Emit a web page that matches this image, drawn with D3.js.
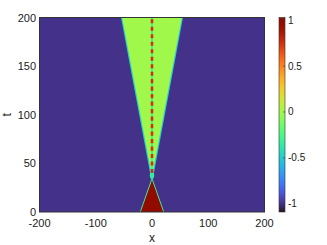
<!DOCTYPE html>
<html><head><meta charset="utf-8">
<script src="https://cdn.jsdelivr.net/npm/d3@7"></script>
<style>html,body{margin:0;padding:0;background:#fff;}svg{display:block;font-family:"Liberation Sans",Arial,sans-serif;}</style>
</head><body>
<script>
// ---- data ----
const xTicks = [-200, -100, 0, 100, 200];
const tTicks = [0, 50, 100, 150, 200];
const cTicks = [-1, -0.5, 0, 0.5, 1];
const colorDomain = [-1.09, 1.03];
// background field value
const backgroundValue = -1;
// red core (t, half width in x)
const coreT = [0, 33];
const coreHalf = [20, 0];
const coreValue = 1;
const coreEdgeValue = -0.3;
// expanding plateau (t, half width in x)
const wedgeT = [38, 200];
const wedgeHalf = [0.6, 53];
const wedgeValue = 0;
const wedgeEdgeValue = -0.5;
// central oscillating stripe
const stripeT = [40, 200];
const stripePeriod = 7.7;
const stripeValue = 0.75;
const stripeGapValue = -0.35;
// knot between core and plateau
const knotT = [34, 42];
const knotValue = -0.35;

const W = 327, H = 245;
const m = {l: 39.5, r: 264.5, t: 17.5, b: 212};
const svg = d3.select("body").append("svg").attr("width", W).attr("height", H);
const x = d3.scaleLinear().domain([-200, 200]).range([m.l, m.r]);
const y = d3.scaleLinear().domain([0, 200]).range([m.b, m.t]);
const color = d3.scaleSequential(d3.interpolateTurbo).domain(colorDomain);

const defs = svg.append("defs");
defs.append("clipPath").attr("id", "clip").append("rect")
  .attr("x", m.l).attr("y", m.t).attr("width", m.r - m.l).attr("height", m.b - m.t);
const g = svg.append("g").attr("clip-path", "url(#clip)");

g.append("rect").attr("x", m.l).attr("y", m.t).attr("width", m.r - m.l).attr("height", m.b - m.t)
  .attr("fill", color(backgroundValue));

const line = d3.line().x(d => x(d[0])).y(d => y(d[1]));
const wedgePts = [[-wedgeHalf[0], wedgeT[0]], [-wedgeHalf[1], wedgeT[1]], [wedgeHalf[1], wedgeT[1]], [wedgeHalf[0], wedgeT[0]]];
g.append("path").attr("d", line(wedgePts) + "Z").attr("fill", "none")
  .attr("stroke", color(wedgeEdgeValue)).attr("stroke-width", 2.4);
g.append("path").attr("d", line(wedgePts) + "Z").attr("fill", color(wedgeValue));

const corePts = [[-coreHalf[0], coreT[0]], [coreHalf[1], coreT[1]], [coreHalf[0], coreT[0]]];
g.append("path").attr("d", line(corePts) + "Z").attr("fill", "none")
  .attr("stroke", color(coreEdgeValue)).attr("stroke-width", 1.8);
g.append("path").attr("d", line(corePts) + "Z").attr("fill", color(coreValue));

// knot
g.append("ellipse").attr("cx", x(0)).attr("cy", (y(knotT[0]) + y(knotT[1])) / 2)
  .attr("rx", 2.2).attr("ry", (y(knotT[0]) - y(knotT[1])) / 2)
  .attr("fill", color(knotValue));

// stripe
const period = y(0) - y(stripePeriod);
g.append("line").attr("x1", x(0)).attr("x2", x(0)).attr("y1", y(stripeT[0])).attr("y2", y(stripeT[1]))
  .attr("stroke", color(stripeGapValue)).attr("stroke-width", 1.6);
g.append("line").attr("x1", x(0)).attr("x2", x(0)).attr("y1", y(stripeT[0])).attr("y2", y(stripeT[1]))
  .attr("stroke", color(stripeValue)).attr("stroke-width", 2.6)
  .attr("stroke-dasharray", `${period * 0.55},${period * 0.45}`);

// frame
svg.append("rect").attr("x", m.l).attr("y", m.t).attr("width", m.r - m.l).attr("height", m.b - m.t)
  .attr("fill", "none").attr("stroke", "#333").attr("stroke-width", 1);

// axes labels
svg.append("g").selectAll("text").data(xTicks).join("text")
  .attr("x", d => x(d)).attr("y", m.b + 14.5).attr("text-anchor", "middle")
  .attr("font-size", 11).attr("fill", "#222").text(d => d);
svg.append("g").selectAll("text").data(tTicks).join("text")
  .attr("x", m.l - 3.5).attr("y", d => y(d) + 4).attr("text-anchor", "end")
  .attr("font-size", 11).attr("fill", "#222").text(d => d);
svg.append("text").attr("x", x(0)).attr("y", 242).attr("text-anchor", "middle")
  .attr("font-size", 12).attr("fill", "#222").text("x");
svg.append("text").attr("transform", `translate(11,${y(100)}) rotate(-90)`).attr("text-anchor", "middle")
  .attr("font-size", 12).attr("fill", "#222").text("t");

// colorbar
const cb = {x: 279, w: 6};
const cy = d3.scaleLinear().domain(colorDomain).range([m.b, m.t]);
const grad = defs.append("linearGradient").attr("id", "cbg").attr("x1", 0).attr("x2", 0).attr("y1", 1).attr("y2", 0);
d3.range(0, 1.0001, 0.02).forEach(f => {
  grad.append("stop").attr("offset", f).attr("stop-color", color(colorDomain[0] + f * (colorDomain[1] - colorDomain[0])));
});
svg.append("rect").attr("x", cb.x).attr("y", m.t).attr("width", cb.w).attr("height", m.b - m.t)
  .attr("fill", "url(#cbg)").attr("stroke", "#333").attr("stroke-width", 0.6);
svg.append("g").selectAll("line").data(cTicks).join("line")
  .attr("x1", cb.x + cb.w - 2).attr("x2", cb.x + cb.w).attr("y1", d => cy(d)).attr("y2", d => cy(d))
  .attr("stroke", "#333").attr("stroke-width", 0.6);
svg.append("g").selectAll("text").data(cTicks).join("text")
  .attr("x", cb.x + cb.w + 3).attr("y", d => cy(d) + 3.5)
  .attr("font-size", 10).attr("fill", "#222").text(d => d);
</script>
</body></html>
